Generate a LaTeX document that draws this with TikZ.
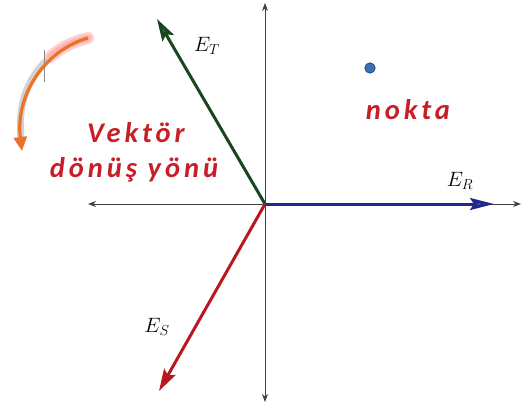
\documentclass[tikz,border=0pt]{standalone}
\usepackage{fontspec}
\usetikzlibrary{arrows.meta}
\newfontfamily\lblfont[LetterSpace=14]{Carlito}
\definecolor{txtred}{RGB}{200,30,40}
\definecolor{vgreen}{RGB}{25,70,30}
\definecolor{vgreenh}{RGB}{40,120,45}
\definecolor{vblue}{RGB}{35,40,140}
\definecolor{vred}{RGB}{185,25,30}
\definecolor{dotblue}{RGB}{60,110,180}
\definecolor{orng}{RGB}{235,115,40}
\begin{document}
\begin{tikzpicture}[x=1pt,y=-1pt,
  axisline/.style={draw=black!75,line width=0.9pt,-{Stealth[length=8pt,width=6pt]}},
  vec/.style={line width=3pt},
  bigtxt/.style={text=txtred,font=\lblfont\bfseries\itshape\fontsize{28.5}{34}\selectfont,inner sep=0pt},
  mlabel/.style={font=\fontsize{20}{24}\selectfont,inner sep=0pt}]
\useasboundingbox (0,0) rectangle (522,408);
\fill[white] (0,0) rectangle (522,408);
\coordinate (O) at (265,204);
\coordinate (xl) at (88,204);
\coordinate (xr) at (521,204);
\coordinate (yt) at (265,3);
\coordinate (yb) at (265,402);
\coordinate (ER) at (494,204);
\coordinate (ET) at (157,19);
\coordinate (ES) at (159,391);
% axes
\draw[axisline] (O) -- (xr);
\draw[axisline] (O) -- (xl);
\draw[axisline] (O) -- (yt);
\draw[axisline] (O) -- (yb);
% vectors
\draw[vec,draw=vblue,-{Stealth[length=24pt,width=12pt,inset=4pt,fill=vblue!80!white]}] (O) -- (ER);
\draw[vec,draw=vgreen,-{Stealth[length=22pt,width=13pt,inset=4pt,fill=vgreenh]}] (O) -- (ET);
\draw[vec,draw=vred,-{Stealth[length=22pt,width=13pt,inset=4pt,fill=red!85!black]}] (O) -- (ES);
% labels
\node[mlabel] (lT) at (207,46) {$E_T$};
\node[mlabel] (lR) at (460,181) {$E_R$};
\node[mlabel] (lS) at (157,327) {$E_S$};
% point
\fill[dotblue,draw=dotblue!70!black,line width=0.8pt] (370,68) circle (5.2pt) coordinate (dot);
\node[bigtxt] (nokta) at (408,110) {nokta};
\node[bigtxt] (v1) at (136,133) {Vektör};
\node[bigtxt] (v2) at (134,170) {dönüş yönü};
% rotation arrow with glow and shadow
\coordinate (a0) at (88,38);
\coordinate (a1) at (22,151);
\draw[black!35,line width=7pt,opacity=0.5,line cap=round] (45,62) .. controls (20,88) and (19,118) .. (21,138);
\draw[red!60,line width=12pt,opacity=0.3,line cap=round] (a0) .. controls (72,42) and (60,48) .. (50,57);
\draw[red!50,line width=7pt,opacity=0.35,line cap=round] (a0) .. controls (72,42) and (60,48) .. (50,57);
\draw[black!45,line width=0.6pt] (44,50) -- (44,82);
\draw[orng,line width=3.2pt,-{Triangle[length=14pt,width=13pt]}] (a0) .. controls (45,50) and (15,95) .. (a1);
\end{tikzpicture}
\end{document}
